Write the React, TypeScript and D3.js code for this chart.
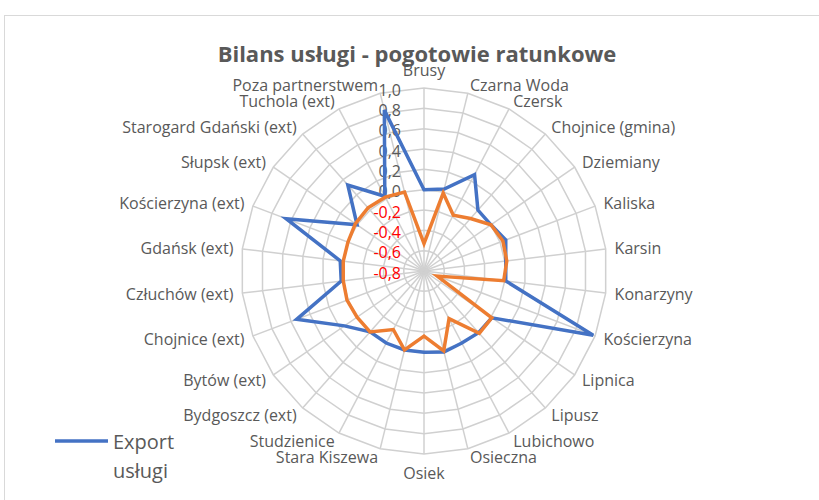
import * as d3 from 'd3';

// categories (spokes, clockwise from top)
const categories = [
  'Brusy', 'Czarna Woda', 'Czersk', 'Chojnice (gmina)', 'Dziemiany', 'Kaliska',
  'Karsin', 'Konarzyny', 'Kościerzyna', 'Lipnica', 'Lipusz', 'Lubichowo',
  'Osieczna', 'Osiek', 'Stara Kiszewa', 'Studzienice', 'Bydgoszcz (ext)',
  'Bytów (ext)', 'Chojnice (ext)', 'Człuchów (ext)', 'Gdańsk (ext)',
  'Kościerzyna (ext)', 'Słupsk (ext)', 'Starogard Gdański (ext)',
  'Tuchola (ext)', 'Poza partnerstwem',
];

const exportValues = [
  0.0, 0.03, 0.27, 0.0, 0.0, 0.06, 0.01, 0.01, 0.98, 0.01, 0.01, 0.0, 0.02,
  0.0, 0.0, 0.0, 0.0, 0.15, 0.54, 0.02, 0.03, 0.65, 0.0, 0.33, 0.03, 0.83,
];

const importValues = [
  -0.53, -0.01, -0.18, -0.11, 0.0, 0.03, 0.02, -0.01, -0.66, 0.01, 0.02, -0.27,
  0.01, -0.16, 0.0, -0.15, 0.0, 0.0, 0.01, 0.0, 0.0, 0.0, 0.02, 0.03, 0.02, 0.0,
];

const seriesNames = ['Export usługi', 'Import usługi'];
const ticks = [1.0, 0.8, 0.6, 0.4, 0.2, 0.0, -0.2, -0.4, -0.6, -0.8];

const W = 819;
const H = 500;
const cx = 424;
const cy = 271;
const R = 183;
const font = "'Open Sans', sans-serif";
const gray = '#595959';
const gridColor = '#d0d0d0';

export default function App() {
  const n = categories.length;
  const r = d3.scaleLinear().domain([-0.8, 1.0]).range([0, R]);
  const angle = d3.scaleLinear().domain([0, n]).range([0, 2 * Math.PI]);
  const pt = (i: number, rad: number): [number, number] => [
    cx + rad * Math.sin(angle(i)),
    cy - rad * Math.cos(angle(i)),
  ];

  const radial = d3
    .lineRadial<number>()
    .angle((_, i) => angle(i))
    .radius((d) => r(d))
    .curve(d3.curveLinearClosed);

  const rings = ticks.filter((t) => t > -0.8);
  const ringPath = (t: number) =>
    d3.range(n).map((i) => pt(i, r(t)).join(',')).join(' ');

  const fmt = (v: number) => v.toFixed(1).replace('.', ',');

  return (
    <svg
      width={W}
      height={H}
      style={{ position: 'absolute', left: 0, top: 0, background: '#fff' }}
      fontFamily={font}
    >
      <rect x={4.5} y={15.5} width={W + 20} height={H + 20} fill="#fff" stroke="#d9d9d9" />

      <text
        x={417}
        y={53}
        textAnchor="middle"
        dominantBaseline="central"
        fontSize={22}
        fontWeight="bold"
        fill={gray}
      >
        Bilans usługi - pogotowie ratunkowe
      </text>

      {/* grid */}
      <g fill="none" stroke={gridColor} strokeWidth={1.5}>
        {rings.map((t) => (
          <polygon key={t} points={ringPath(t)} />
        ))}
        {categories.map((c, i) => {
          const [x, y] = pt(i, R);
          return <line key={c} x1={cx} y1={cy} x2={x} y2={y} />;
        })}
      </g>

      {/* category labels */}
      <g fontSize={16} fill={gray}>
        {categories.map((c, i) => {
          const s = Math.sin(angle(i));
          const co = Math.cos(angle(i));
          let [x, y] = pt(i, R + 9);
          let anchor = s > 0 ? 'start' : 'end';
          if (Math.abs(s) < 0.05) {
            anchor = 'middle';
            y += co > 0 ? -9.5 : 9.5;
          }
          return (
            <text key={c} x={x} y={y} textAnchor={anchor} dominantBaseline="central">
              {c}
            </text>
          );
        })}
      </g>

      {/* radial axis labels */}
      <g fontSize={16} textAnchor="end">
        {ticks.map((t) => (
          <text
            key={t}
            x={401}
            y={cy - r(t) + 1.5}
            dominantBaseline="central"
            fill={t < 0 ? '#ff0000' : gray}
          >
            {fmt(t)}
          </text>
        ))}
      </g>

      {/* series */}
      <g transform={`translate(${cx},${cy})`} fill="none" strokeWidth={3.5}>
        <path d={radial(exportValues) ?? ''} stroke="#4472c4" />
        <path d={radial(importValues) ?? ''} stroke="#ed7d31" />
      </g>

      {/* legend (only first entry visible) */}
      <line x1={55} y1={441} x2={108} y2={441} stroke="#4472c4" strokeWidth={3.5} />
      <text x={113} y={441} fontSize={20} fill={gray} dominantBaseline="central">
        {seriesNames[0].split(' ')[0]}
      </text>
      <text x={113} y={470} fontSize={20} fill={gray} dominantBaseline="central">
        {seriesNames[0].split(' ')[1]}
      </text>
    </svg>
  );
}
